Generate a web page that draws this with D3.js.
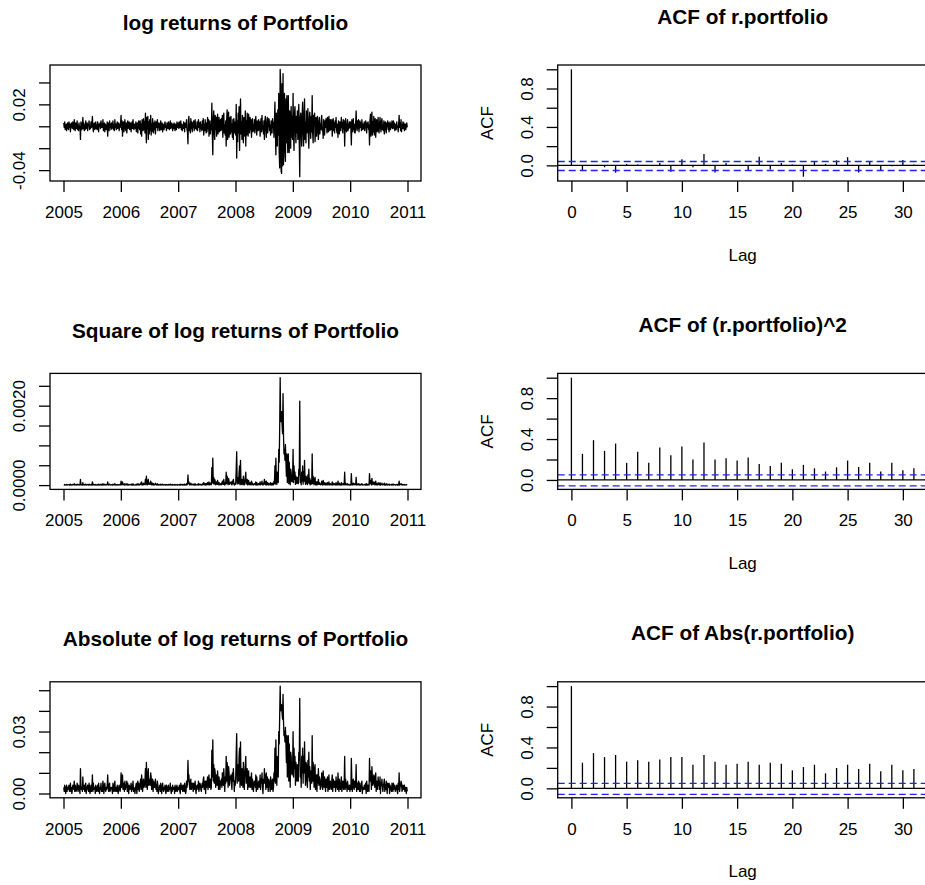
<!DOCTYPE html>
<html>
<head>
<meta charset="utf-8">
<script src="https://cdnjs.cloudflare.com/ajax/libs/d3/7.8.5/d3.min.js"></script>
<style>
  body { margin: 0; background: #fff; }
  svg { display: block; font-family: "Liberation Sans", Arial, sans-serif; }
</style>
</head>
<body>
<svg id="chart" width="925" height="885"></svg>
<script>
// log returns, in 1/1000, ten points a month
const r2005 = [3,-1,4,-3,0,2,-4,1,3,-2, -3,4,-1,2,-5,1,3,0,-2,4, 2,-3,6,-1,-4,3,1,-2,5,-3,
               1,-4,3,-2,0,-12,4,2,-3,1, 8,-2,3,-4,1,-3,5,0,-2,3, -4,2,1,5,-3,0,-2,4,-1,3,
               9,-1,-5,2,3,-3,0,4,-2,1, -3,4,1,-5,2,0,3,-2,5,-1, 2,-1,6,-4,0,3,-5,2,1,-3,
               -2,4,-9,3,1,-4,5,-1,2,-3, 3,-2,0,5,-3,1,-4,6,-1,2, -3,1,4,-2,0,3,-4,2,-1,3];
const r2006 = [10,-3,5,-9,2,4,-5,1,6,-2, -4,3,-6,1,5,-2,0,4,-3,2, 3,-5,1,4,-2,6,-1,-3,2,0,
               -2,4,-5,0,3,-6,2,5,-1,-3, 5,-7,2,-9,6,1,-4,7,-3,4, -6,12,-3,-15,8,-2,9,-12,4,-7,
               6,-4,10,-8,2,-5,7,1,-6,3, -3,5,-7,2,4,-1,6,-4,0,3, 2,-4,1,5,-3,0,3,-5,2,-1,
               -3,2,4,-1,0,-4,3,1,-2,4, 1,-3,2,5,-2,0,3,-1,-4,2, -2,3,0,-4,2,1,-3,4,-1,2];
const r2007 = [3,-2,4,-1,0,5,-3,2,-4,1, -2,4,1,-5,3,0,-1,6,-3,-5, -16,6,9,-4,2,-6,7,-2,4,-5,
               3,-1,5,-4,2,6,-2,0,-3,4, -4,2,6,-1,3,-5,4,-2,1,-4, 5,-3,7,-8,2,-4,6,0,-6,3,
               -5,8,-2,6,-9,3,5,-7,2,-3, 21,-8,-26,6,14,-5,-12,10,-3,8, -9,4,11,-7,2,8,-5,-2,6,-4,
               7,-3,10,-10,4,12,-6,1,-8,5, -18,6,15,-12,3,13,-10,-4,8,-7, 9,-5,2,-10,6,-12,7,1,-6,4];
const r2008 = [-8,20,-29,5,-14,12,-6,18,-22,3, 25,-7,4,-12,10,-3,-15,8,2,-9, 14,-18,5,-8,12,-2,-9,11,3,-6,
               8,-3,6,-10,2,7,-5,1,-4,6, -6,3,9,-1,-8,5,2,-4,6,-3, 4,-9,2,7,-5,10,-3,0,-7,5,
               -12,5,9,-2,-10,3,8,-6,1,7, 6,-4,1,-8,5,2,-6,7,-1,3, -10,6,22,-5,-26,12,4,-18,15,-8,
               30,-24,-38,52,40,-41,-43,39,-36,48, -35,28,30,-25,-32,25,-15,28,-8,-24, 28,-6,-24,14,3,-20,18,-10,9,-12];
const r2009 = [30,-8,-22,12,18,-4,-15,9,-6,14, -12,6,20,-16,-46,8,12,-3,-18,10, 22,-5,-18,10,25,-12,4,-15,14,-6,
               -3,16,-8,-20,6,13,-2,-11,9,-5, 28,-6,-15,10,3,12,-14,-2,8,-9, 1,9,-5,-12,4,8,-7,2,-3,6,
               10,-4,-2,-11,6,3,-8,5,-1,7, 3,-6,8,-1,-5,9,2,-4,6,-3, -2,6,-9,1,7,-4,3,-6,5,-1,
               8,-3,-6,2,-10,5,1,-7,4,-2, -4,8,-1,3,-6,6,-2,5,-18,2, 7,-3,-5,1,6,-4,2,-2,4,-1];
const r2010 = [4,-2,-17,6,1,-5,7,-3,2,-6, -6,3,14,-1,-4,5,-2,6,-5,1, 5,-1,3,-4,6,0,-3,2,-2,4,
               -4,2,5,0,-6,3,-1,4,-3,1, -17,6,11,-9,2,13,-8,4,-5,9, -8,3,7,-10,1,6,-5,-2,8,-4,
               -6,2,8,0,-5,4,7,-3,1,-4, 5,-7,1,4,-2,-6,3,0,5,-3, 3,-5,0,4,-3,2,-1,5,-2,1,
               5,-2,3,-4,1,2,-3,4,-1,0, -5,2,10,-1,3,-4,6,-5,1,-2, 4,-2,3,-4,1,2,-3,0,3,-1];
const years = [2005, 2006, 2007, 2008, 2009, 2010];
const yearTicks = [2005, 2006, 2007, 2008, 2009, 2010, 2011];

// sample autocorrelations, lags 0..31
const acfRet = [1, -0.052, -0.005, -0.02, -0.076, 0.015, 0.01, 0.002, 0.025, -0.066, 0.063, -0.02,
                0.118, -0.073, 0.025, 0.005, -0.05, 0.09, -0.042, 0.025, 0.01, -0.118, 0.045, 0.015,
                0.052, 0.085, -0.073, 0.04, -0.05, -0.008, 0.055, 0.008];
const acfSq = [1, 0.255, 0.389, 0.284, 0.356, 0.167, 0.275, 0.167, 0.317, 0.242, 0.327, 0.199,
               0.366, 0.199, 0.212, 0.19, 0.219, 0.157, 0.137, 0.167, 0.105, 0.147, 0.114, 0.082,
               0.124, 0.19, 0.127, 0.167, 0.082, 0.167, 0.095, 0.114];
const acfAbs = [1, 0.251, 0.345, 0.306, 0.326, 0.261, 0.274, 0.261, 0.283, 0.306, 0.306, 0.231,
                0.326, 0.261, 0.231, 0.241, 0.261, 0.231, 0.251, 0.241, 0.176, 0.208, 0.231, 0.147,
                0.199, 0.231, 0.189, 0.241, 0.166, 0.231, 0.176, 0.189];
const nObs = 1510;
const lagTicks = [0, 5, 10, 15, 20, 25, 30];
const acfTicks = [0, 0.2, 0.4, 0.6, 0.8, 1];
const acfLabeled = [0, 0.4, 0.8];

const retTicks = [-0.04, -0.02, 0, 0.02, 0.04], retLabeled = [-0.04, 0.02];
const sqTicks = [0, 0.0005, 0.001, 0.0015, 0.002, 0.0025], sqLabeled = [0, 0.002];
const absTicks = [0, 0.01, 0.02, 0.03, 0.04, 0.05], absLabeled = [0, 0.03];

// layout
const rowTop = [0, 308.4, 616.8];
const leftBox = { x0: 50, x1: 421 };
const rightBox = { x0: 557.7, x1: 927.6 };
const boxTop = 65, boxBottom = 181;
const tickLen = 11;
const axisFont = 17, titleFont = 20.8;
const lineWidth = 1.3;

let svg = d3.select('#chart');
let fmt = d3.formatLocale({ decimal: '.', thousands: ',', grouping: [3], currency: ['', ''], minus: '-' }).format;

// R pads the data range by 4% on each side
let rPad = ext => {
  let d = (ext[1] - ext[0]) * 0.04;
  return [ext[0] - d, ext[1] + d];
};

let returns = [];
[r2005, r2006, r2007, r2008, r2009, r2010].forEach((arr, k) => {
  arr.forEach((v, i) => {
    returns.push({ t: years[k] + (i + 0.5) / arr.length, v: v / 1000 });
  });
});

let drawFrame = function (g, box) {
  g.append('rect')
    .attr('x', box.x0).attr('y', boxTop)
    .attr('width', box.x1 - box.x0).attr('height', boxBottom - boxTop)
    .attr('fill', 'none').attr('stroke', '#000').attr('stroke-width', lineWidth);
};

let drawAxes = function (g, x, y, xTicks, xFmt, yTicks, yLabeled, yFmt, box) {
  let ax = g.append('g')
    .attr('transform', `translate(0,${boxBottom})`)
    .call(d3.axisBottom(x).tickValues(xTicks).tickSize(tickLen).tickFormat(xFmt));
  ax.select('.domain').remove();
  ax.selectAll('.tick text').attr('y', 37).attr('dy', null);

  let ay = g.append('g')
    .attr('transform', `translate(${box.x0},0)`)
    .call(d3.axisLeft(y).tickValues(yTicks).tickSize(tickLen)
      .tickFormat(d => yLabeled.includes(d) ? yFmt(d) : ''));
  ay.select('.domain').remove();
  ay.selectAll('.tick text')
    .attr('x', 0).attr('y', -25).attr('dy', null)
    .attr('text-anchor', 'middle')
    .attr('transform', 'rotate(-90)');

  [ax, ay].forEach(a => {
    a.attr('font-size', axisFont).attr('font-family', null).attr('color', '#000');
    a.selectAll('.tick line').attr('stroke-width', lineWidth);
  });
};

let drawTitle = function (g, box, text, baseline) {
  g.append('text')
    .attr('x', (box.x0 + box.x1) / 2).attr('y', baseline)
    .attr('text-anchor', 'middle')
    .attr('font-size', titleFont).attr('font-weight', 'bold')
    .text(text);
};

let drawSeries = function (row, title, accessor, yTicks, yLabeled, yFmt) {
  let g = svg.append('g').attr('transform', `translate(0,${rowTop[row]})`);
  let data = returns.map(d => ({ t: d.t, v: accessor(d.v) }));

  let x = d3.scaleLinear()
    .domain(rPad(d3.extent(data, d => d.t)))
    .range([leftBox.x0, leftBox.x1]);
  let y = d3.scaleLinear()
    .domain(rPad(d3.extent(data, d => d.v)))
    .range([boxBottom, boxTop]);

  g.append('path')
    .datum(data)
    .attr('fill', 'none')
    .attr('stroke', '#000')
    .attr('stroke-width', lineWidth)
    .attr('stroke-linejoin', 'round')
    .attr('d', d3.line().x(d => x(d.t)).y(d => y(d.v)));

  drawFrame(g, leftBox);
  drawAxes(g, x, y, yearTicks, d3.format('d'), yTicks, yLabeled, yFmt, leftBox);
  drawTitle(g, leftBox, title, 29.5);
};

let drawAcf = function (row, title, acf) {
  let g = svg.append('g').attr('transform', `translate(0,${rowTop[row]})`);
  let ci = 1.96 / Math.sqrt(nObs);
  let lags = acf.map((v, i) => ({ lag: i, v: v }));

  let x = d3.scaleLinear()
    .domain(rPad([0, acf.length - 1]))
    .range([rightBox.x0, rightBox.x1]);
  let y = d3.scaleLinear()
    .domain(rPad([Math.min(d3.min(acf), -ci), 1]))
    .range([boxBottom, boxTop]);

  g.selectAll('.bar')
    .data(lags)
    .enter()
    .append('line')
      .attr('class', 'bar')
      .attr('x1', d => x(d.lag)).attr('x2', d => x(d.lag))
      .attr('y1', y(0)).attr('y2', d => y(d.v))
      .attr('stroke', '#000').attr('stroke-width', lineWidth);

  g.append('line')
    .attr('x1', rightBox.x0).attr('x2', rightBox.x1)
    .attr('y1', y(0)).attr('y2', y(0))
    .attr('stroke', '#000').attr('stroke-width', lineWidth);

  [ci, -ci].forEach(c => {
    let yc = Math.round(y(c)) + 0.5;
    g.append('line')
      .attr('x1', rightBox.x0).attr('x2', rightBox.x1)
      .attr('y1', yc).attr('y2', yc)
      .attr('stroke', '#2020ff').attr('stroke-width', 1.3)
      .attr('stroke-dasharray', '7,4');
  });

  drawFrame(g, rightBox);
  drawAxes(g, x, y, lagTicks, d3.format('d'), acfTicks, acfLabeled, fmt('.1f'), rightBox);
  drawTitle(g, rightBox, title, 23.5);

  g.append('text')
    .attr('x', (rightBox.x0 + rightBox.x1) / 2).attr('y', 260.5)
    .attr('text-anchor', 'middle').attr('font-size', axisFont)
    .text('Lag');

  g.append('text')
    .attr('transform', `translate(${rightBox.x0},${(boxTop + boxBottom) / 2}) rotate(-90)`)
    .attr('y', -64.4)
    .attr('text-anchor', 'middle').attr('font-size', axisFont)
    .text('ACF');
};

drawSeries(0, 'log returns of Portfolio', v => v, retTicks, retLabeled, fmt('.2f'));
drawSeries(1, 'Square of log returns of Portfolio', v => v * v, sqTicks, sqLabeled, fmt('.4f'));
drawSeries(2, 'Absolute of log returns of Portfolio', v => Math.abs(v), absTicks, absLabeled, fmt('.2f'));

drawAcf(0, 'ACF of r.portfolio', acfRet);
drawAcf(1, 'ACF of (r.portfolio)^2', acfSq);
drawAcf(2, 'ACF of Abs(r.portfolio)', acfAbs);
</script>
</body>
</html>
